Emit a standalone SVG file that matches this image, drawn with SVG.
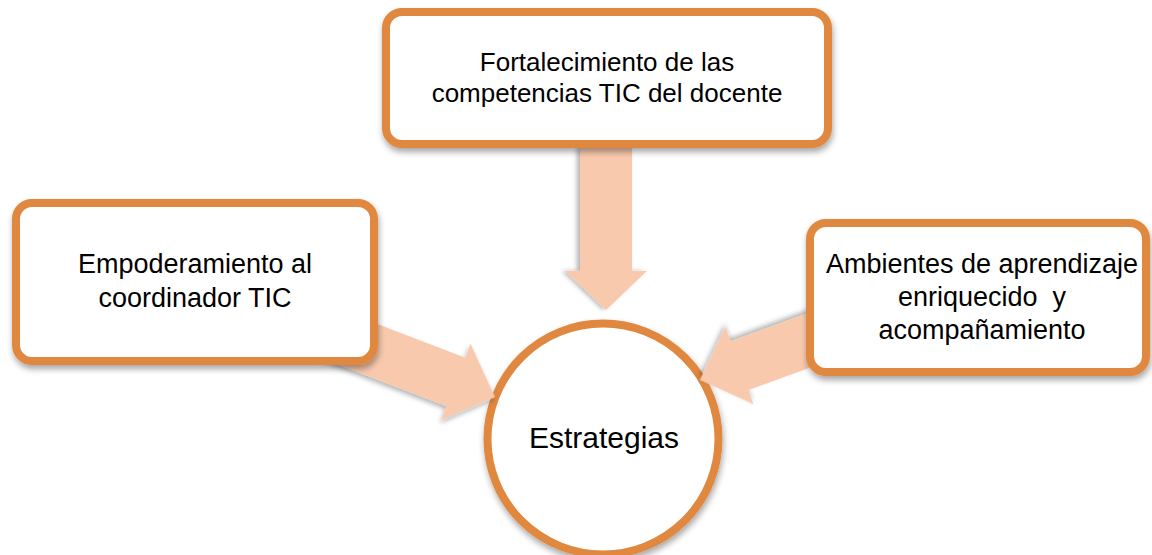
<svg xmlns="http://www.w3.org/2000/svg" width="1152" height="555" viewBox="0 0 1152 555">
<defs>
<filter id="sh" x="-20%" y="-20%" width="140%" height="150%">
<feDropShadow dx="1" dy="4" stdDeviation="3" flood-color="#000" flood-opacity="0.35"/>
</filter>
<filter id="ash" x="-30%" y="-30%" width="160%" height="160%">
<feDropShadow dx="0" dy="3" stdDeviation="2.5" flood-color="#000" flood-opacity="0.3"/>
</filter>
<path id="arrow" d="M0,0 L-42,-41 L-42,-26 L-175,-26 L-175,26 L-42,26 L-42,41 Z"/>
</defs>
<style>
.box{fill:#fff;stroke:#E0883F;stroke-width:8;filter:url(#sh)}
.arr{fill:#F8C9AD;filter:url(#ash)}
.t{font-family:"Liberation Sans",Arial,sans-serif;fill:#000;text-anchor:middle}
</style>
<rect width="1152" height="555" fill="#fff"/>
<g id="estrategias">
<circle cx="603" cy="439" r="115.5" class="box"/>
<text class="t" x="604" y="448" font-size="30">Estrategias</text>
</g>
<g id="connectors">
<use href="#arrow" class="arr" transform="translate(606,310) rotate(90) scale(0.93,1)"/>
<use href="#arrow" class="arr" transform="translate(495,397) rotate(21)"/>
<use href="#arrow" class="arr" transform="translate(700,380) rotate(160)"/>
</g>
<g id="fortalecimiento">
<rect x="386" y="12" width="442" height="132" rx="16" class="box"/>
<text class="t" x="607" y="71" font-size="26">Fortalecimiento de las</text>
<text class="t" x="607" y="102" font-size="26">competencias TIC del docente</text>
</g>
<g id="empoderamiento">
<rect x="16" y="203" width="358" height="158" rx="16" class="box"/>
<text class="t" x="195" y="273" font-size="27">Empoderamiento al</text>
<text class="t" x="195" y="307" font-size="27">coordinador TIC</text>
</g>
<g id="ambientes">
<rect x="810" y="223" width="336" height="149" rx="16" class="box"/>
<text class="t" x="982" y="273" font-size="27">Ambientes de aprendizaje</text>
<text class="t" x="982" y="306" font-size="27" xml:space="preserve" style="white-space:pre">enriquecido  y</text>
<text class="t" x="982" y="339" font-size="27">acompañamiento</text>
</g>
</svg>
